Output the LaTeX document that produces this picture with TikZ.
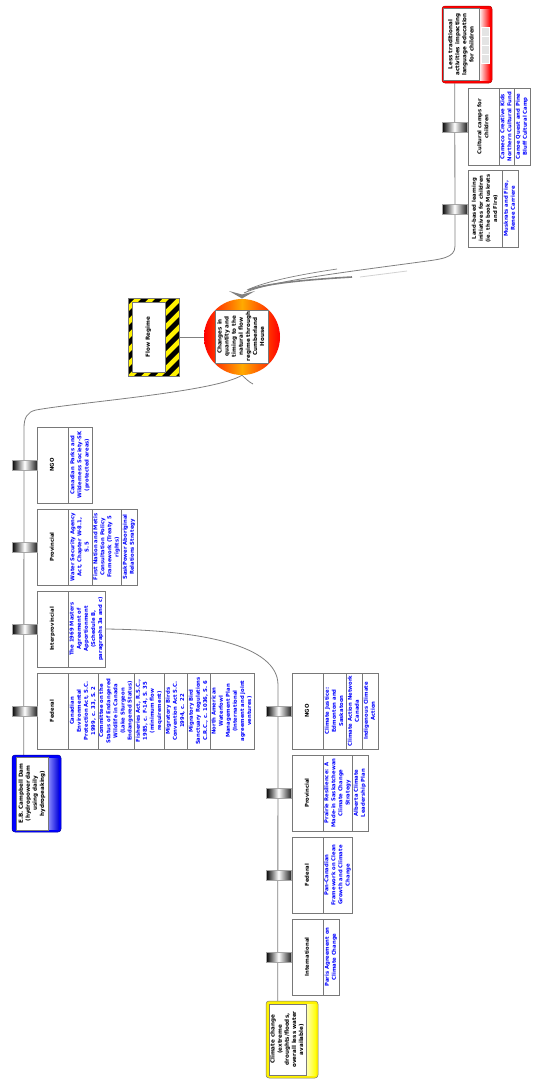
\documentclass[tikz,border=0pt]{standalone}
\usepackage{fontspec}
\setmainfont{DejaVu Sans}
\usetikzlibrary{backgrounds}
\definecolor{bgray}{RGB}{120,120,120}
\definecolor{lgray}{RGB}{128,128,128}
\definecolor{refblue}{RGB}{0,0,255}
\definecolor{corange}{RGB}{255,170,0}
\definecolor{cellgray}{RGB}{228,228,228}
\newcommand{\rt}[1]{\rotatebox{90}{\begin{tabular}{@{}c@{}}#1\end{tabular}}}
\newcommand{\cb}[7]{\node[#1, minimum width={(#4-#3)*1pt}, minimum height={(#6-#5)*1pt}] (#2) at ({(#3+#4)/2},{(#5+#6)/2}) {\rt{#7}};}
\tikzset{
 cellbase/.style={draw=bgray, line width=0.5pt, fill=white, inner sep=0pt, font=\fontsize{5.3}{7.1}\selectfont\bfseries},
 hdr/.style={cellbase, text=black},
 refc/.style={cellbase, text=refblue},
 tickbox/.style={draw=gray!70, line width=0.3pt, minimum width=25pt, minimum height=10pt, inner sep=0pt, left color=black, right color=black!85, middle color=white},
 link/.style={draw=lgray, line width=0.8pt},
 bigtxt/.style={inner sep=0pt, font=\fontsize{5.6}{7.1}\selectfont\bfseries, text=black},
 inwhite/.style={draw=bgray, line width=0.4pt, fill=white},
 outerbox/.style={draw=bgray, line width=0.5pt, rounded corners=3pt, inner sep=0pt},
}
\begin{document}
\begin{tikzpicture}[x=1pt,y=-1pt]
\useasboundingbox (0,0) rectangle (543,1087);

% ---------- central circle ----------
\node[circle, minimum size=76pt, inner sep=0pt, left color=red, right color=red, middle color=corange] (circ) at (242,337) {};
\node[inwhite, bigtxt, minimum width=53pt, minimum height=53pt] (circtxt) at (241.5,336.5) {\rt{Changes in\\quantity and\\timing to the\\natural flow\\regime through\\Cumberland\\House}};
\fill[lgray] (229,291) -- (242,298.5) -- (255,291) -- (242,294.5) -- cycle;

% ---------- Flow Regime ----------
\begin{scope}
\clip (128,298) rectangle (179,376);
\fill[yellow] (128,298) rectangle (179,376);
\foreach \k in {0,...,11} {
  \fill[black] ({128+14*\k},298) -- ++(7,0) -- ++(-78,78) -- ++(-7,0) -- cycle;
}
\end{scope}
\node[draw=bgray, line width=0.5pt, minimum width=51pt, minimum height=78pt, inner sep=0pt] (flow) at (153.5,337) {};
\node[inwhite, bigtxt, minimum width=33pt, minimum height=70pt] (flowtxt) at (148.5,337) {\rt{Flow Regime}};

% ---------- Less traditional (red) ----------
\node[outerbox, draw=red!70!black, fill=red, minimum width=50pt, minimum height=77pt] (red) at (467,44.5) {};
\shade[left color=white, right color=red] (479,9) rectangle (490,80);
\foreach \j in {0,1,2,3} {\draw[white, line width=0.4pt, fill=cellgray] (481,{27+9*\j}) rectangle (489,{36+9*\j});}
\node[inwhite, bigtxt, minimum width=36pt, minimum height=72pt] (redtxt) at (461.5,44.5) {\rt{Less traditional\\activities impacting\\language education\\for children}};

% ---------- E.B. Campbell Dam (blue) ----------
\node[outerbox, draw=blue!60!black, fill=blue, minimum width=49pt, minimum height=77pt] (dam) at (36.5,793.5) {};
\shade[left color=blue!45, right color=blue!85!black] (48,758) rectangle (59,829);
\node[inwhite, bigtxt, minimum width=32pt, minimum height=73pt] (damtxt) at (32,793.5) {\rt{E.B. Campbell Dam\\(hydropower dam\\using daily\\hydropeaking)}};

% ---------- Climate change (yellow) ----------
\node[outerbox, fill=yellow, minimum width=52pt, minimum height=77pt] (clim) at (292,1039.5) {};
\shade[left color=yellow!25, right color=yellow] (306,1004) rectangle (316,1075);
\node[inwhite, bigtxt, minimum width=37pt, minimum height=71pt] (climtxt) at (287.5,1039.5) {\rt{Climate change\\(extreme\\droughts/floods,\\overall less water\\available)}};

% ---------- group A ----------
\cb{hdr}{ngoAh}{37}{68}{427}{503}{NGO}
\cb{refc}{ngoA1}{68}{92}{427}{503}{Canadian Parks and\\Wilderness Society-SK\\(protected areas)}
\cb{hdr}{provAh}{37}{68}{509}{585}{Provincial}
\cb{refc}{provA1}{68}{92}{509}{585}{Water Security Agency\\Act, Chapter W-8.1,\\S. 5}
\cb{refc}{provA2}{92}{121}{509}{585}{First Nation and Metis\\Consultation Policy\\Framework (Treaty 5\\rights)}
\cb{refc}{provA3}{121}{137}{509}{585}{SaskPower Aboriginal\\Relations Strategy}
\cb{hdr}{ipAh}{37}{68}{591}{667}{Interprovincial}
\cb{refc}{ipA1}{68}{105}{591}{667}{The 1969 Masters\\Agreement of\\Apportionment\\(Schedule B,\\paragraphs 3a and c)}
\cb{hdr}{fedAh}{37}{68}{673}{749}{Federal}
\cb{refc}{fedA1}{68}{98}{673}{749}{Canadian\\Environmental\\Protection Act, S.C.\\1999, c. 33, S. 2}
\cb{refc}{fedA2}{98}{134}{673}{749}{Committee on the\\Status of Endangered\\Wildlife in Canada\\(Lake Sturgeon\\Endangered Status)}
\cb{refc}{fedA3}{134}{164}{673}{749}{Fisheries Act, R.S.C.,\\1985, c. F-14, S. 35\\(minimum flow\\requirement)}
\cb{refc}{fedA4}{164}{187}{673}{749}{Migratory Birds\\Convention Act S.C.\\1994, c. 22}
\cb{refc}{fedA5}{187}{210}{673}{749}{Migratory Bird\\Sanctuary Regulations\\C.R.C., c. 1036, S. 6}
\cb{refc}{fedA6}{210}{254}{673}{749}{North American\\Waterfowl\\Management Plan\\(International\\agreement and joint\\ventures)}

% ---------- group B ----------
\cb{hdr}{ngoBh}{292}{323}{673}{749}{NGO}
\cb{refc}{ngoB1}{323}{346}{673}{749}{Climate Justice:\\Edmonton and\\Saskatoon}
\cb{refc}{ngoB2}{346}{362}{673}{749}{Climate Action Network\\Canada}
\cb{refc}{ngoB3}{362}{378}{673}{749}{Indigenous Climate\\Action}
\cb{hdr}{provBh}{292}{323}{755}{831}{Provincial}
\cb{refc}{provB1}{323}{352}{755}{831}{Prairie Resilience: A\\Made-in Saskatchewan\\Climate Change\\Strategy}
\cb{refc}{provB2}{352}{368}{755}{831}{Alberta Climate\\Leadership Plan}
\cb{hdr}{fedBh}{292}{323}{837}{913}{Federal}
\cb{refc}{fedB1}{323}{352}{837}{913}{Pan-Canadian\\Framework on Clean\\Growth and Climate\\Change}
\cb{hdr}{intBh}{292}{323}{919}{995}{International}
\cb{refc}{intB1}{323}{339}{919}{995}{Paris Agreement on\\Climate Change}

% ---------- group C ----------
\cb{hdr}{cultH}{468}{499}{88}{165}{Cultural camps for\\children}
\cb{refc}{cult1}{499}{514}{88}{165}{Cameco Creative Kids\\Northern Cultural Fund}
\cb{refc}{cult2}{514}{530}{88}{165}{Canoe Quest and Pine\\Bluff Cultural Camp}
\cb{hdr}{landH}{468}{502}{170}{247}{Land-based learning\\initiatives for children\\(ie. the book Muskrats\\and Fire)}
\cb{refc}{land1}{502}{518}{170}{247}{Muskrats and Fire,\\Renee Carriere}

% ---------- ticks ----------
\node[tickbox] (tA1) at (24.5,465) {};
\node[tickbox] (tA2) at (24.5,547) {};
\node[tickbox] (tA3) at (24.5,629) {};
\node[tickbox] (tA4) at (24.5,711) {};
\node[tickbox] (tB1) at (278.5,711) {};
\node[tickbox] (tB2) at (278.5,793) {};
\node[tickbox] (tB3) at (278.5,875) {};
\node[tickbox] (tB4) at (278.5,957) {};
\node[tickbox] (tC1) at (454.5,127) {};
\node[tickbox] (tC2) at (454.5,209) {};

% ---------- connectors ----------
\begin{pgfonlayer}{background}
\fill[white] (0,0) rectangle (543,1087);
\draw[link] ([xshift=13pt]red.south west) -- (455,246) .. controls (455,258) and (442,259) .. (420,262) .. controls (330,274) and (268,282) .. (244,293);
\draw[lgray, line width=0.7pt] (337,269) .. controls (290,276) and (262,283) .. (247,290);
\draw[lgray, line width=1.6pt] (352,277) .. controls (300,280) and (265,284) .. (248,290);
\draw[gray!35, line width=0.8pt] (407,271) -- (360,277);
\draw[link] (circ.south) .. controls (215,392) and (80,402) .. (36,410) .. controls (27,412) and (24,418) .. (24,428) -- ([xshift=12pt]dam.north west);
\draw[link] (circ.south) .. controls (246,379) and (249,382) .. (253,384);
\draw[link] (ipA1.east) .. controls (200,630) and (278,645) .. (278,685) -- ([xshift=12pt]clim.north west);
\draw[link] (flow.east) -- (circ.west);
\end{pgfonlayer}
\end{tikzpicture}
\end{document}
